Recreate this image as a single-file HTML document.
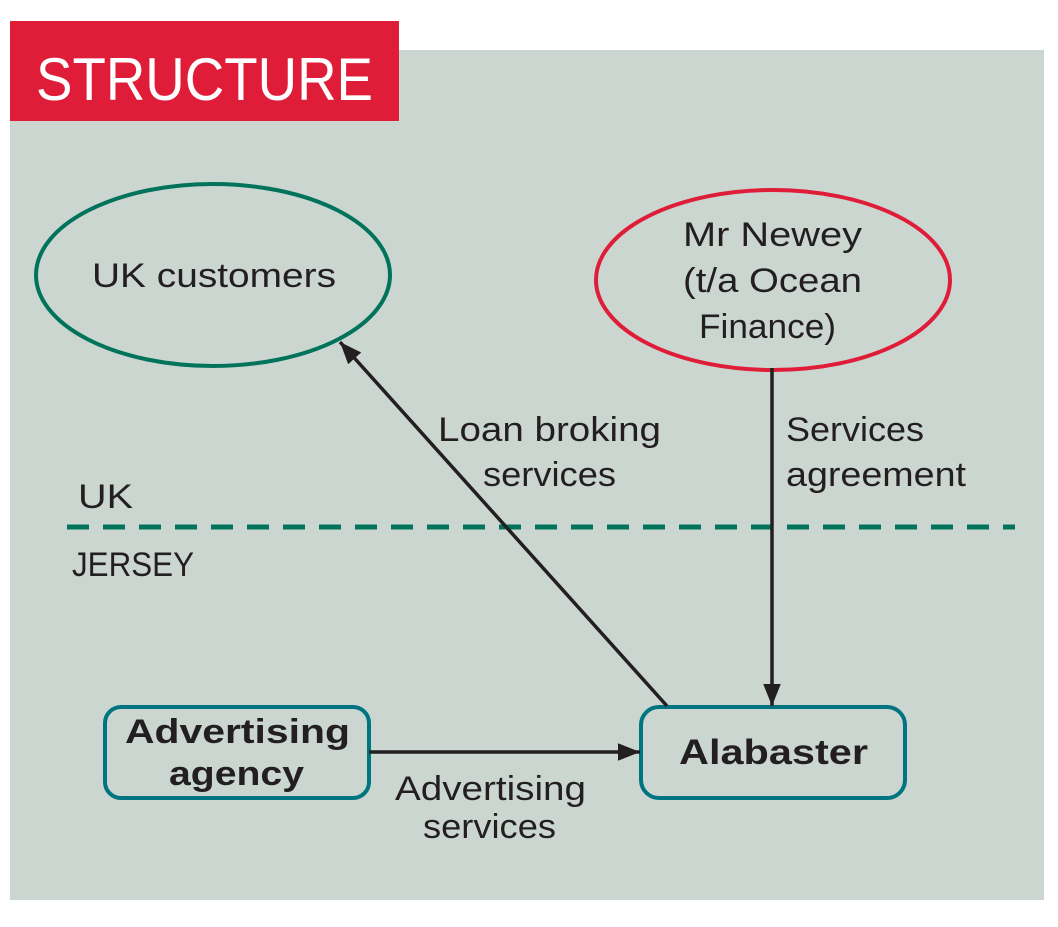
<!DOCTYPE html>
<html><head><style>body{margin:0;background:#fff}svg{display:block}</style></head><body>
<svg width="1058" height="927" viewBox="0 0 1058 927" xmlns="http://www.w3.org/2000/svg" font-family="Liberation Sans, sans-serif" fill="#231f20">
<defs>
<marker id="b" viewBox="0 0 10 10" refX="10" refY="5" markerWidth="22" markerHeight="22" orient="auto" markerUnits="userSpaceOnUse"><path d="M0,1 L10,5 L0,9 z" fill="#231f20"/></marker></defs>
<rect x="10" y="50" width="1034" height="850" fill="#cbd6d1"/>
<rect x="10" y="21" width="389" height="100" fill="#e01d38"/>
<text x="36" y="100" font-size="60" fill="#fff" textLength="337" lengthAdjust="spacingAndGlyphs">STRUCTURE</text>
<ellipse cx="213" cy="275" rx="177" ry="91" fill="none" stroke="#00735a" stroke-width="4"/>
<ellipse cx="773" cy="280" rx="177" ry="90" fill="none" stroke="#e01d38" stroke-width="4"/>
<rect x="105" y="707" width="264" height="91" rx="16" fill="none" stroke="#007480" stroke-width="4"/>
<rect x="641" y="707" width="264" height="91" rx="18" fill="none" stroke="#007480" stroke-width="4"/>
<line x1="67" y1="527" x2="1015" y2="527" stroke="#00735a" stroke-width="5" stroke-dasharray="22,14"/>
<g stroke="#231f20" stroke-width="3.5">
<line x1="667" y1="706" x2="340" y2="342" marker-end="url(#b)"/>
<line x1="772" y1="368" x2="772" y2="706" marker-end="url(#b)"/>
<line x1="369" y1="752" x2="640" y2="752" marker-end="url(#b)"/>
</g>
<g font-size="34">
<text x="92" y="287" textLength="244" lengthAdjust="spacingAndGlyphs">UK customers</text>
<text x="683" y="246" textLength="179" lengthAdjust="spacingAndGlyphs">Mr Newey</text>
<text x="683" y="292" textLength="179" lengthAdjust="spacingAndGlyphs">(t/a Ocean</text>
<text x="699" y="338" textLength="137" lengthAdjust="spacingAndGlyphs">Finance)</text>
<text x="438" y="441" textLength="223" lengthAdjust="spacingAndGlyphs">Loan broking</text>
<text x="483" y="486" textLength="133" lengthAdjust="spacingAndGlyphs">services</text>
<text x="395" y="800" textLength="191" lengthAdjust="spacingAndGlyphs">Advertising</text>
<text x="423" y="838" textLength="133" lengthAdjust="spacingAndGlyphs">services</text>
<text x="125" y="743" textLength="225" lengthAdjust="spacingAndGlyphs" font-weight="bold">Advertising</text>
<text x="169" y="785" textLength="135" lengthAdjust="spacingAndGlyphs" font-weight="bold">agency</text>
<text x="679" y="764" textLength="189" lengthAdjust="spacingAndGlyphs" font-weight="bold" font-size="35">Alabaster</text>
<text x="786" y="441" textLength="138" lengthAdjust="spacingAndGlyphs">Services</text>
<text x="786" y="486" textLength="180" lengthAdjust="spacingAndGlyphs">agreement</text>
<text x="78" y="508" textLength="55" lengthAdjust="spacingAndGlyphs">UK</text>
<text x="72" y="576" textLength="122" lengthAdjust="spacingAndGlyphs">JERSEY</text>
</g>
</svg>
</body></html>
